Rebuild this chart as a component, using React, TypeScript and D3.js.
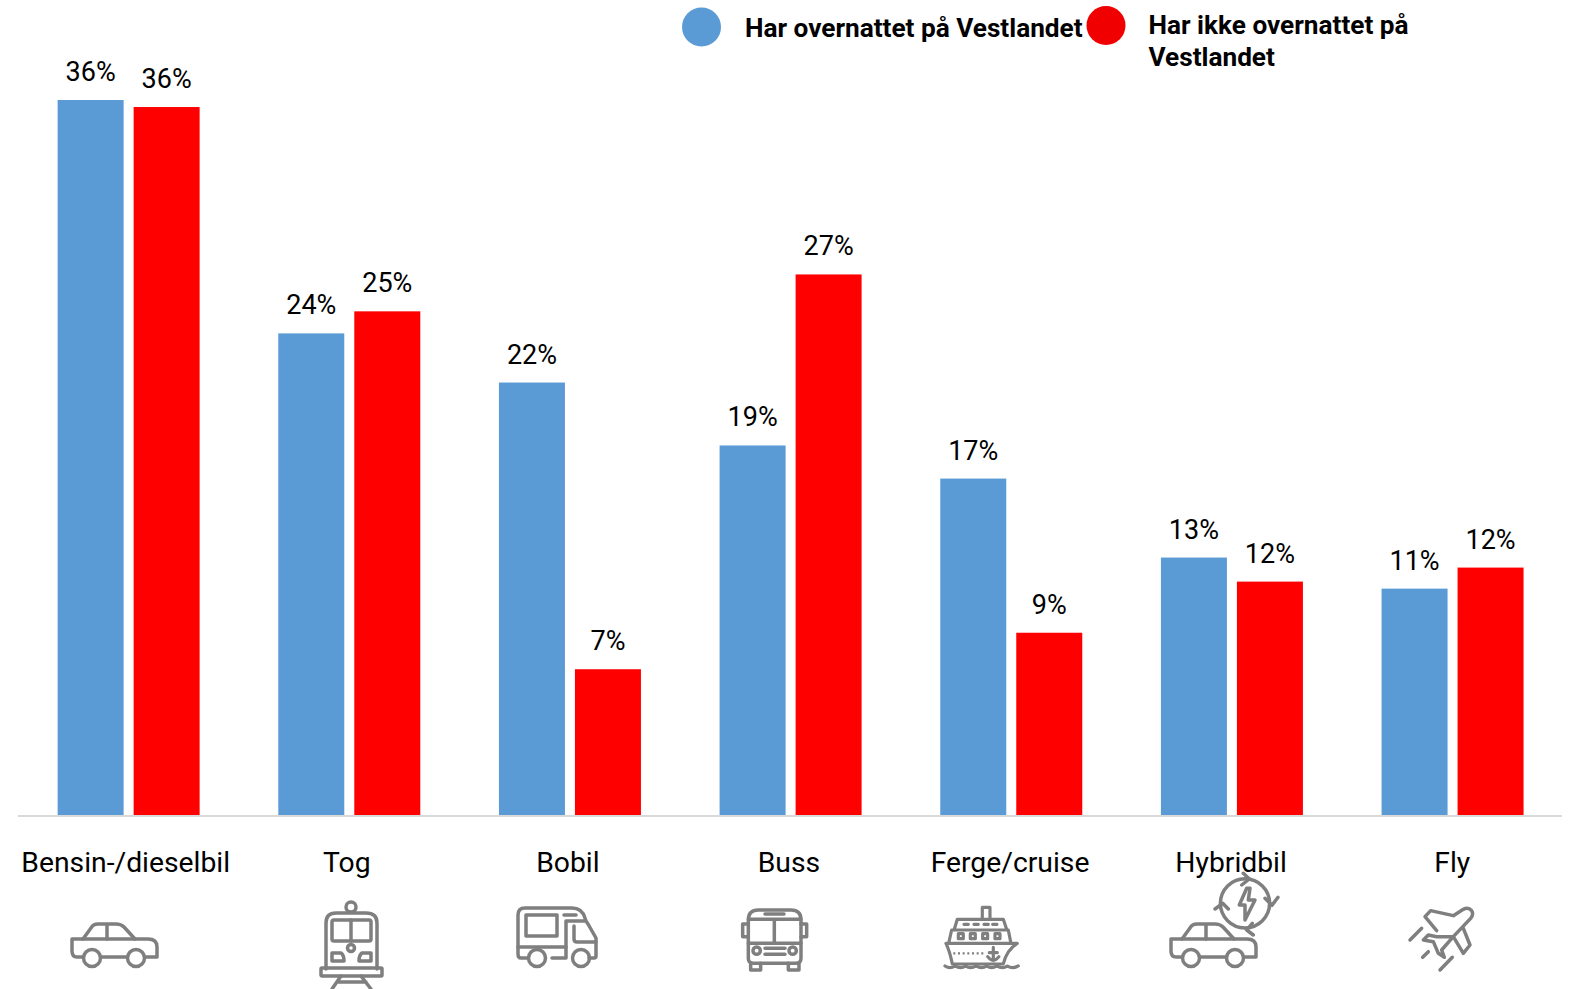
import React from "react";
import * as d3 from "d3";

const categories = ["Bensin-/dieselbil", "Tog", "Bobil", "Buss", "Ferge/cruise", "Hybridbil", "Fly"];
const overnight = [35.71, 24.07, 21.62, 18.48, 16.83, 12.89, 11.34];
const noOvernight = [35.36, 25.17, 7.32, 27.01, 9.14, 11.69, 12.39];
const overnightLabels = ["36%", "24%", "22%", "19%", "17%", "13%", "11%"];
const noOvernightLabels = ["36%", "25%", "7%", "27%", "9%", "12%", "12%"];
const legendA = "Har overnattet på Vestlandet";
const legendB = ["Har ikke overnattet på", "Vestlandet"];
const BLUE = "#5b9bd5";
const RED = "#ff0000";
const GREY = "#7f7f7f";
const FONT = "Roboto, sans-serif";

const W = 1570, H = 989, baseY = 816;
const x = d3.scaleBand<string>().domain(categories).range([18.3, 1562.9]).paddingInner(0).paddingOuter(0);
const labelX = d3.scalePoint<string>().domain(categories).range([125.7, 1452.2]);
const y = d3.scaleLinear().domain([0, 36]).range([baseY, baseY - 36 * 20.05]);
const barW = 66, gap = 10;

const Ic: React.FC<{ t?: string; children: React.ReactNode }> = ({ t, children }) => (
  <g transform={t} fill="none" stroke={GREY} strokeWidth={3.5} strokeLinejoin="round" strokeLinecap="round">{children}</g>
);

const Car = ({ t }: { t: string }) => (
  <Ic t={t}>
    <path d="M13 35 H7 Q2 35 2 29 V17 H62 H78 Q87 17 87 25 V35 H76 M56 35 H31" />
    <path d="M13 17 L21 6 Q23 2 28 2 H46 Q51 2 54 5 L65 17 M37 2 V17" />
    <circle cx={22} cy={36} r={8.5} />
    <circle cx={66} cy={36} r={8.5} />
  </Ic>
);

export default function App() {
  return (
    <svg width={W} height={H} style={{ position: "absolute", left: 0, top: 0, display: "block", background: "#fff" }}>
      {categories.map((c, i) => {
        const cx = x(c)! + x.bandwidth() / 2;
        const bx = cx - gap / 2 - barW;
        const rx = cx + gap / 2;
        return (
          <g key={c}>
            <rect x={bx} y={y(overnight[i])} width={barW} height={baseY - y(overnight[i])} fill={BLUE} />
            <rect x={rx} y={y(noOvernight[i])} width={barW} height={baseY - y(noOvernight[i])} fill={RED} />
            <text x={bx + barW / 2} y={y(overnight[i]) - 19} textAnchor="middle" fontFamily={FONT} fontSize={27} fill="#000">{overnightLabels[i]}</text>
            <text x={rx + barW / 2} y={y(noOvernight[i]) - 19} textAnchor="middle" fontFamily={FONT} fontSize={27} fill="#000">{noOvernightLabels[i]}</text>
            <text x={labelX(c)} y={872} textAnchor="middle" fontFamily={FONT} fontSize={28.3} fill="#000">{c}</text>
          </g>
        );
      })}
      <line x1={18} x2={1562} y1={baseY} y2={baseY} stroke="#d9d9d9" strokeWidth={2} />

      <circle cx={701.5} cy={27} r={19.5} fill={BLUE} />
      <circle cx={1106} cy={25.5} r={19.5} fill="#f00000" />
      <g fontFamily={FONT} fontWeight={700} fontSize={26.2} fill="#000">
        <text x={745} y={37}>{legendA}</text>
        <text x={1148.5} y={34}>{legendB[0]}</text>
        <text x={1148.5} y={66}>{legendB[1]}</text>
      </g>

      <Car t="translate(70,922)" />
      <Ic t="translate(320,901)">
        <circle cx={31} cy={6} r={5} />
        <path d="M6 68 V22 Q6 12 16 12 H46 Q57 12 57 22 V68" />
        <rect x={12} y={19} width={39} height={21} rx={2} />
        <path d="M31 19 V40" />
        <circle cx={31} cy={47} r={3.5} />
        <path d="M12 60 V52 H21 Q24 54 24 60 Z M51 60 V52 H42 Q39 54 39 60 Z" />
        <rect x={1} y={67} width={61} height={8} rx={1} />
        <path d="M21 75 L12 88 M41 75 L51 88 M17 81 H46" />
      </Ic>
      <Ic t="translate(516,906)">
        <path d="M11 52 H5 Q2 52 2 48 V9 Q2 2 9 2 H56 Q66 2 69 12 L70 15 H50 V52 M36 52 H50 M70 15 L72 18 L80 32 V50 Q80 52 78 52 H73" />
        <rect x={10} y={9} width={31} height={21} />
        <path d="M48 9 H60 M2 41 H50 M58 20 V33 Q58 36 61 36 H80" />
        <circle cx={21} cy={52} r={8.5} />
        <circle cx={65} cy={52} r={8.5} />
      </Ic>
      {/* bus */}
      <Ic t="translate(720,840) scale(0.3333)">
        <g strokeWidth={10.5}>
          <path d="M85 240 Q85 210 115 210 H213 Q243 210 243 240 V355 Q243 370 228 370 H100 Q85 370 85 355 Z" />
          <path d="M85 238 H243 M85 310 H243 M163 238 V310 M135 222 H192" />
          <path d="M85 252 H68 V290 H85 M243 252 H260 V290 H243" />
          <path d="M92 370 V390 H122 V370 M205 370 V390 H237 V370" />
          <circle cx={110} cy={332} r={11} />
          <circle cx={218} cy={332} r={11} />
          <path d="M135 325 H195 M135 343 H195" />
        </g>
      </Ic>
      {/* ferry */}
      <Ic t="translate(720,840) scale(0.3333)">
        <g strokeWidth={9.5}>
          <path d="M787 236 V202 H810 V236" />
          <path d="M703 268 L712 238 H850 L860 268" />
          <path d="M686 310 L695 270 H865 L873 310" />
          <path d="M678 310 H892 Q860 330 850 372 H697 Q690 335 678 310 Z" />
          <path d="M732 253 H745 M762 253 H775 M792 253 H805 M818 253 H831" />
          <rect x={715} y={281} width={15} height={15} />
          <rect x={751} y={281} width={15} height={15} />
          <rect x={788} y={281} width={15} height={15} />
          <rect x={825} y={281} width={15} height={15} />
          <path d="M700 340 H795" strokeDasharray="6 8" strokeLinecap="butt" strokeWidth={7} />
          <path d="M820 322 V362 M808 338 H832 M803 350 Q820 372 837 350" />
          <path d="M675 378 Q690 388 705 378 Q722 388 737 378 Q752 388 768 378 Q785 388 800 378 Q815 388 830 378 Q848 388 862 378 Q878 388 895 378" />
        </g>
      </Ic>
      <Car t="translate(1169,922)" />
      {/* energy cycle */}
      <Ic t="translate(1245,903.3)">
        <circle r={24.6} />
        <path d="M-1.7 -30 L4.3 -24.3 L-3.3 -18.3 M-30 5.7 L-22.3 0 L-16.7 5.7 M7.3 20 L1.7 26.7 L8.3 31.7 M20 -5 L27 2 L33 -6" />
        <path d="M1.7 -15 L-5.7 1.7 H0 L0 16.7 L10 -3.3 H3.3 L5 -15 Z" />
      </Ic>
      {/* plane */}
      <Ic t="translate(1400,900) scale(0.3333)">
        <g strokeWidth={10.5}>
          <path d="M110 92 L75 50 L92 32 L160 47 L190 28 Q205 20 215 32 Q222 42 212 55 L160 110 L190 160 L210 135 L190 85 M160 110 L125 150 L133 172 L115 160 L100 125 L70 120 L85 105 L110 110 Z" />
          <path d="M30 120 L65 85 M68 172 L85 155 M120 210 L157 172" />
        </g>
      </Ic>
    </svg>
  );
}
